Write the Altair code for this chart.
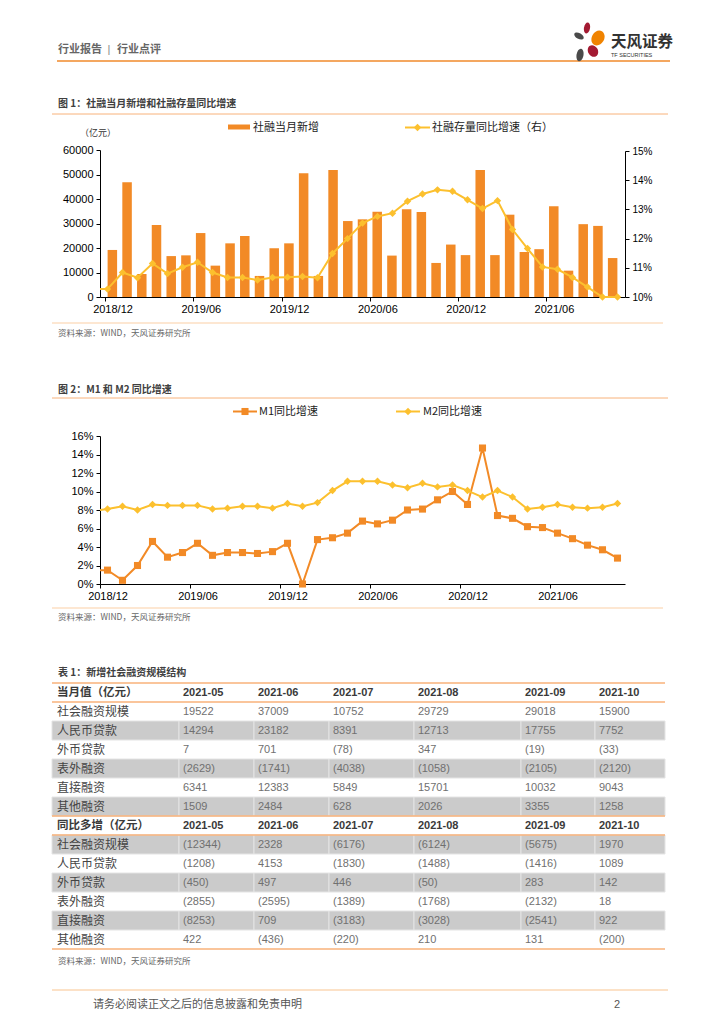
import altair as alt
import pandas as pd

# ---------------- data ----------------
MONTHS = ["2018/12"] + [f"{y}/{m:02d}" for y in (2019, 2020) for m in range(1, 13)] + [f"2021/{m:02d}" for m in range(1, 11)]
X_TICK_LABELS = ["2018/12", "2019/06", "2019/12", "2020/06", "2020/12", "2021/06"]

TSF_NEW = [19200, 46800, 9400, 29400, 16700, 17000, 26100, 12800, 21900, 24900, 8600, 19900,
           21900, 50500, 8600, 51800, 31000, 31700, 34800, 16900, 35800, 34700, 13900, 21400,
           17100, 51800, 17100, 33600, 18400, 19522, 37009, 10752, 29729, 29018, 15900]
TSF_STOCK_YOY_PREV = 10.27
TSF_STOCK_YOY = [10.27, 10.84, 10.66, 11.15, 10.80, 11.02, 11.19, 10.84, 10.67, 10.67, 10.58, 10.67,
                 10.68, 10.70, 10.66, 11.49, 12.00, 12.53, 12.76, 12.87, 13.28, 13.53, 13.67, 13.62,
                 13.33, 13.03, 13.30, 12.31, 11.66, 11.03, 10.95, 10.67, 10.34, 10.0, 10.0]

M1_PREV = 1.5
M1_YOY = [1.5, 0.4, 2.0, 4.6, 2.9, 3.4, 4.4, 3.1, 3.4, 3.4, 3.3, 3.5, 4.4, 0.0, 4.8, 5.0, 5.5, 6.8,
          6.5, 6.9, 8.0, 8.1, 9.1, 10.0, 8.6, 14.7, 7.4, 7.1, 6.2, 6.1, 5.5, 4.9, 4.2, 3.7, 2.8]
M2_PREV = 8.0
M2_YOY = [8.1, 8.4, 8.0, 8.6, 8.5, 8.5, 8.5, 8.1, 8.2, 8.4, 8.4, 8.2, 8.7, 8.4, 8.8, 10.1, 11.1, 11.1,
          11.1, 10.7, 10.4, 10.9, 10.5, 10.7, 10.1, 9.4, 10.1, 9.4, 8.1, 8.3, 8.6, 8.3, 8.2, 8.3, 8.7]

TABLE_COLS = ["2021-05", "2021-06", "2021-07", "2021-08", "2021-09", "2021-10"]
TABLE_ROWS = ["社会融资规模", "人民币贷款", "外币贷款", "表外融资", "直接融资", "其他融资"]
MONTHLY = [[19522, 37009, 10752, 29729, 29018, 15900],
           [14294, 23182, 8391, 12713, 17755, 7752],
           [7, 701, -78, 347, -19, -33],
           [-2629, -1741, -4038, -1058, -2105, -2120],
           [6341, 12383, 5849, 15701, 10032, 9043],
           [1509, 2484, 628, 2026, 3355, 1258]]
YOY_MORE = [[-12344, 2328, -6176, -6124, -5675, 1970],
            [-1208, 4153, -1830, -1488, -1416, 1089],
            [-450, 497, 446, -50, 283, 142],
            [-2855, -2595, -1389, -1768, -2132, 18],
            [-8253, 709, -3183, -3028, -2541, 922],
            [422, -436, -220, 210, 131, -200]]

# ---------------- page geometry ----------------
W, H = 708, 1008
O = 8
def P(v):
    return v - O

CJK = "Noto Sans CJK SC"
LAT = "Liberation Sans"
ORANGE = "#F28A26"
GOLD = "#FCC02E"
LINE_DARK = "#F08A2B"
LINE_LIGHT = "#F8B27A"
LINE_PALE = "#FBCFA6"
GRAY = "#CBCBCB"

def one():
    return pd.DataFrame({"k": [0]})

def text_mark(x, y, s, size, color="#333333", weight="normal", font=CJK, align="left"):
    return alt.Chart(one()).mark_text(
        text=s, fontSize=size, color=color, fontWeight=weight, font=font,
        align=align, baseline="middle"
    ).encode(x=alt.value(P(x)), y=alt.value(P(y)))

def hrule(x1, x2, y, color, width=1.0):
    return alt.Chart(one()).mark_rule(color=color, strokeWidth=width).encode(
        x=alt.value(P(x1)), x2=alt.value(P(x2)), y=alt.value(P(y)))

def sym(x, y, shape, size, color, angle=0):
    return alt.Chart(one()).mark_point(
        shape=shape, size=size, filled=True, color=color, opacity=1, angle=angle, strokeWidth=0
    ).encode(x=alt.value(P(x)), y=alt.value(P(y)))

layers = []

# ---------------- header ----------------
ELL = "M0,-1A0.55,1,0,1,1,0,1A0.55,1,0,1,1,0,-1Z"
ELL_W = "M0,-1A0.8,1,0,1,1,0,1A0.8,1,0,1,1,0,-1Z"
layers += [
    text_mark(58, 50, "行业报告", 11, "#666666", "bold"),
    text_mark(109, 50, "|", 11, "#888888", "normal", LAT, "center"),
    text_mark(117, 50, "行业点评", 11, "#666666", "bold"),
    hrule(57, 670, 61, LINE_DARK, 1.5),
    sym(587, 28, ELL, 121, "#A31A32", 10),
    sym(579, 36, ELL, 110, "#4A4A4A", 300),
    sym(598, 38, ELL_W, 240, "#F08300", 30),
    sym(593, 51, ELL_W, 150, "#A31A32", 330),
    sym(580, 55, ELL, 160, "#4A4A4A", 10),
    text_mark(611, 42, "天风证券", 15.5, "#333333", "bold"),
    text_mark(611, 55, "TF SECURITIES", 5.5, "#333333", "normal", LAT),
]

# ---------------- shared x ----------------
XS = alt.Scale(domain=[-0.5, 34.5], range=[P(100), P(625)], nice=False, zero=False)
TICK_VALUES = [-0.5 + 6 * k for k in range(len(X_TICK_LABELS))]
LABEL_EXPR = "[" + ",".join(f"'{s}'" for s in X_TICK_LABELS) + "][round((datum.value + 0.5) / 6)]"

def x_axis(y_page):
    return alt.Axis(orient="bottom", offset=-(H - P(y_page)), values=TICK_VALUES,
                    labelExpr=LABEL_EXPR, labelOffset=7.5, labelFlush=False, labelOverlap=False,
                    tickSize=4, tickColor="#000000", domainColor="#000000", labelColor="#000000",
                    labelFont=LAT, labelFontSize=11, labelPadding=2, grid=False, title=None)

def y_axis_left(values, label_expr=None, fmt=None):
    kw = dict(orient="left", offset=-P(100), values=values, labelFlush=False, labelOverlap=False,
              tickSize=4, tickColor="#000000", domainColor="#000000", labelColor="#000000",
              labelFont=LAT, labelFontSize=11, labelPadding=3, grid=False, title=None)
    if label_expr:
        kw["labelExpr"] = label_expr
    if fmt:
        kw["format"] = fmt
    return alt.Axis(**kw)

# ---------------- figure 1 ----------------
layers += [
    text_mark(58, 104, "图 1：社融当月新增和社融存量同比增速", 10, "#404040", "bold"),
    hrule(52, 668, 114, LINE_LIGHT, 1),
    alt.Chart(one()).mark_rect(color=ORANGE).encode(
        x=alt.value(P(228)), x2=alt.value(P(250)), y=alt.value(P(124.5)), y2=alt.value(P(129.5))),
    text_mark(253, 127.5, "社融当月新增", 11, "#222222"),
    hrule(405, 430, 127.5, GOLD, 2),
    sym(417.5, 127.5, "diamond", 55, GOLD),
    text_mark(432, 127.5, "社融存量同比增速（右）", 11, "#222222"),
    text_mark(80, 133, "（亿元）", 9, "#333333"),
]

df1 = pd.DataFrame({"i": list(range(len(MONTHS))), "month": MONTHS, "new": TSF_NEW, "yoy": TSF_STOCK_YOY})
df1l = pd.DataFrame({"i": [-0.5] + list(range(len(MONTHS))), "yoy": [TSF_STOCK_YOY_PREV] + TSF_STOCK_YOY})
YS1 = alt.Scale(domain=[0, 60000], range=[P(297), P(150)], nice=False, zero=False)
YS1R = alt.Scale(domain=[10, 15], range=[P(297), P(151)], nice=False, zero=False)

right_axis = alt.Axis(orient="right", offset=-(W - P(625)), values=[10, 11, 12, 13, 14, 15],
                      labelExpr="datum.value + '%'", labelFlush=False, labelOverlap=False,
                      tickSize=4, tickColor="#000000", domainColor="#000000", labelColor="#000000",
                      labelFont="Liberation Sans Narrow, Arial Narrow, Liberation Sans", labelFontSize=10,
                      labelPadding=3, grid=False, title=None)

layers += [
    alt.Chart(df1).mark_bar(size=9.5, color=ORANGE).encode(
        x=alt.X("i:Q", scale=XS, axis=x_axis(297)),
        y=alt.Y("new:Q", scale=YS1, axis=y_axis_left(list(range(0, 60001, 10000)), fmt="d"))),
    alt.Chart(df1l).mark_line(color=GOLD, strokeWidth=2).encode(
        x=alt.X("i:Q", scale=XS, axis=None),
        y=alt.Y("yoy:Q", scale=YS1R, axis=right_axis)),
    alt.Chart(df1).mark_point(shape="diamond", filled=True, size=55, color=GOLD, opacity=1).encode(
        x=alt.X("i:Q", scale=XS, axis=None),
        y=alt.Y("yoy:Q", scale=YS1R, axis=None)),
    hrule(52, 663, 323, LINE_PALE, 1.2),
    text_mark(58, 333, "资料来源：WIND，天风证券研究所", 8.5, "#666666"),
]

# ---------------- figure 2 ----------------
layers += [
    text_mark(58, 390, "图 2：M1 和 M2 同比增速", 10, "#404040", "bold"),
    hrule(52, 668, 398, LINE_LIGHT, 1),
    hrule(233, 257, 411.5, ORANGE, 2),
    sym(245, 411.5, "square", 50, ORANGE),
    text_mark(259, 411.5, "M1同比增速", 11, "#222222"),
    hrule(396, 420, 411.5, GOLD, 2),
    sym(408, 411.5, "diamond", 55, GOLD),
    text_mark(423, 411.5, "M2同比增速", 11, "#222222"),
]

df2 = pd.DataFrame({"i": list(range(len(MONTHS))), "m1": M1_YOY, "m2": M2_YOY})
df2l = pd.DataFrame({"i": [-0.5] + list(range(len(MONTHS))), "m1": [M1_PREV] + M1_YOY, "m2": [M2_PREV] + M2_YOY})
YS2 = alt.Scale(domain=[0, 16], range=[P(584), P(436)], nice=False, zero=False)

layers += [
    alt.Chart(df2l).mark_line(color=ORANGE, strokeWidth=2).encode(
        x=alt.X("i:Q", scale=XS, axis=x_axis(584)),
        y=alt.Y("m1:Q", scale=YS2, axis=y_axis_left(list(range(0, 17, 2)), label_expr="datum.value + '%'"))),
    alt.Chart(df2).mark_point(shape="square", filled=True, size=50, color=ORANGE, opacity=1).encode(
        x=alt.X("i:Q", scale=XS, axis=None),
        y=alt.Y("m1:Q", scale=YS2, axis=None)),
    alt.Chart(df2l).mark_line(color=GOLD, strokeWidth=2).encode(
        x=alt.X("i:Q", scale=XS, axis=None),
        y=alt.Y("m2:Q", scale=YS2, axis=None)),
    alt.Chart(df2).mark_point(shape="diamond", filled=True, size=55, color=GOLD, opacity=1).encode(
        x=alt.X("i:Q", scale=XS, axis=None),
        y=alt.Y("m2:Q", scale=YS2, axis=None)),
    hrule(52, 663, 608, LINE_PALE, 1.2),
    text_mark(58, 617, "资料来源：WIND，天风证券研究所", 8.5, "#666666"),
]

# ---------------- table ----------------
def fmt(v):
    return f"({abs(v)})" if v < 0 else str(v)

XC = alt.Scale(domain=list(range(7)), range=[P(v) for v in [57, 183, 258, 333, 418, 525, 599]],
               nice=False, zero=False)
XB = alt.Scale(domain=list(range(8)), range=[P(v) for v in [52, 179, 254, 329, 414, 521, 595, 665]],
               nice=False, zero=False)
YR = alt.Scale(domain=[0, 14], range=[P(683), P(949)], nice=False, zero=False)

head_lbl, head_num, row_lbl, row_num, gray = [], [], [], [], []
sections = [("当月值（亿元）", MONTHLY, 0, {1, 3, 5}), ("同比多增（亿元）", YOY_MORE, 7, {0, 2, 4})]
for title, vals, base, gray_rows in sections:
    head_lbl.append({"r": base + 0.5, "c": 0, "t": title})
    for j, col in enumerate(TABLE_COLS):
        head_num.append({"r": base + 0.5, "c": j + 1, "t": col})
    for k, name in enumerate(TABLE_ROWS):
        r = base + 1 + k
        row_lbl.append({"r": r + 0.5, "c": 0, "t": name})
        for j, v in enumerate(vals[k]):
            row_num.append({"r": r + 0.5, "c": j + 1, "t": fmt(v)})
        if k in gray_rows:
            for c in range(7):
                gray.append({"r": r, "r2": r + 1, "c": c, "c2": c + 1})

def cell_text(rows, size, color, weight, font):
    return alt.Chart(pd.DataFrame(rows)).mark_text(
        fontSize=size, color=color, fontWeight=weight, font=font, align="left", baseline="middle"
    ).encode(x=alt.X("c:Q", scale=XC, axis=None), y=alt.Y("r:Q", scale=YR, axis=None), text="t:N")

layers += [
    text_mark(58, 673, "表 1：新增社会融资规模结构", 10, "#404040", "bold"),
    alt.Chart(pd.DataFrame(gray)).mark_rect(color=GRAY, stroke="#E4E4E4", strokeWidth=1).encode(
        x=alt.X("c:Q", scale=XB, axis=None), x2="c2:Q",
        y=alt.Y("r:Q", scale=YR, axis=None), y2="r2:Q"),
    alt.Chart(pd.DataFrame({"r": [0, 1, 7, 8, 14]})).mark_rule(color=LINE_LIGHT, strokeWidth=1.5).encode(
        x=alt.value(P(52)), x2=alt.value(P(665)), y=alt.Y("r:Q", scale=YR, axis=None)),
    cell_text(head_lbl, 11.5, "#3A3A3A", "bold", CJK),
    cell_text(head_num, 11, "#3A3A3A", "bold", LAT),
    cell_text(row_lbl, 12, "#444444", "normal", CJK),
    cell_text(row_num, 11, "#707070", "normal", LAT),
    text_mark(58, 961, "资料来源：WIND，天风证券研究所", 8.5, "#666666"),
]

# ---------------- footer ----------------
layers += [
    hrule(52, 668, 990, "#F9C48F", 1),
    text_mark(93, 1005, "请务必阅读正文之后的信息披露和免责申明", 11, "#555555"),
    text_mark(617, 1005, "2", 11, "#555555", "normal", LAT, "center"),
]

chart = alt.layer(*layers).resolve_scale(x="independent", y="independent").properties(
    width=W, height=H, padding=0, autosize=alt.AutoSizeParams(type="none"), background="white"
).configure_view(strokeWidth=0)

chart.save("out.html", embed_options={"renderer": "svg", "actions": False})
